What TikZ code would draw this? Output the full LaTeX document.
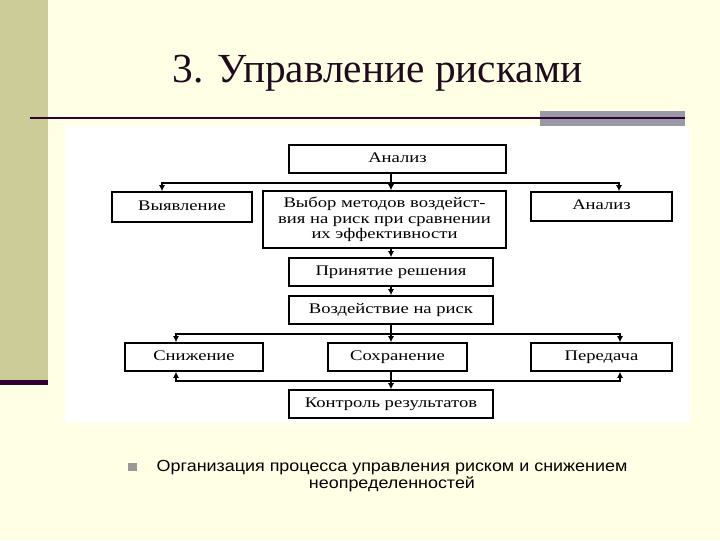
\documentclass[tikz,border=0pt]{standalone}
\usepackage{fontspec}
\setmainfont{Liberation Serif}
\newfontfamily\arialf[FakeStretch=1.12]{Liberation Sans}
\newfontfamily\boxf[FakeStretch=1.27]{Liberation Serif}
\usetikzlibrary{arrows.meta}
\definecolor{bg}{RGB}{255,255,229}
\definecolor{strip}{RGB}{204,204,153}
\definecolor{stripline}{RGB}{51,0,51}
\definecolor{graybar}{RGB}{153,153,168}
\definecolor{titlec}{RGB}{30,12,30}
\definecolor{bulletc}{RGB}{153,153,153}
\begin{document}
\begin{tikzpicture}[x=0.75pt,y=-0.75pt,
  box/.style={draw=black, line width=1.2pt, fill=white, inner sep=0pt, align=center,
    font=\boxf\fontsize{11}{11.6}\selectfont},
  single/.style={text height=7.5pt, text depth=2.5pt},
  conn/.style={line width=0.8pt, -{Latex[length=4.5pt,width=4.5pt]}},
  titlefont/.style={font=\fontsize{31}{36}\selectfont, text=titlec}]
\useasboundingbox (0,0) rectangle (720,540);
\fill[bg] (0,0) rectangle (720,540);
\fill[strip] (0,0) rectangle (48,380);
\fill[stripline] (0,380) rectangle (48,385);
\fill[graybar] (540,111) rectangle (685,126);
\draw[stripline, line width=1.5pt] (30,118) -- (685,118);
\node[titlefont, anchor=base] (title) at (377.5,82) {3. Управление рисками};
\fill[white] (65,126) rectangle (690,423);

\node[box, single, minimum width=162.75pt, minimum height=21pt] (an1) at (397.5,159) {Анализ};
\node[box, single, minimum width=105pt, minimum height=22.5pt] (vyy) at (182,207) {Выявление};
\node[box, minimum width=182.25pt, minimum height=42.75pt] (vyb) at (384.5,219.5) {Выбор методов воздейст-\\вия на риск при сравнении\\их эффективности};
\node[box, single, minimum width=105.75pt, minimum height=21.75pt] (an2) at (601.5,206.5) {Анализ};
\node[box, single, minimum width=153pt, minimum height=21pt] (prin) at (391,272) {Принятие решения};
\node[box, single, minimum width=153pt, minimum height=21pt] (vozd) at (391,310) {Воздействие на риск};
\node[box, single, minimum width=103.5pt, minimum height=21pt] (sniz) at (194,357) {Снижение};
\node[box, single, minimum width=104.25pt, minimum height=21pt] (sohr) at (397.5,357) {Сохранение};
\node[box, single, minimum width=105.75pt, minimum height=21pt] (pere) at (601.5,357) {Передача};
\node[box, single, minimum width=153pt, minimum height=21pt] (kontr) at (391,404) {Контроль результатов};

\coordinate (tx) at (391,0);
\coordinate (j1) at (391,183);
\coordinate (l1) at (162,183);
\coordinate (r1) at (619,183);
\coordinate (j2) at (391,334);
\coordinate (l2) at (176,334);
\coordinate (r2) at (620,334);
\coordinate (j3) at (391,381);
\coordinate (l3) at (176,381);
\coordinate (r3) at (620,381);

\draw[conn] (an1.south -| tx) -- (vyb.north -| tx);
\draw[conn] (j1) -- (l1) -- (vyy.north -| l1);
\draw[conn] (j1) -- (r1) -- (an2.north -| r1);
\draw[conn] (vyb.south -| tx) -- (prin.north -| tx);
\draw[conn] (prin.south -| tx) -- (vozd.north -| tx);
\draw[conn] (vozd.south -| tx) -- (sohr.north -| tx);
\draw[conn] (j2) -- (l2) -- (sniz.north -| l2);
\draw[conn] (j2) -- (r2) -- (pere.north -| r2);
\draw[conn] (sohr.south -| tx) -- (kontr.north -| tx);
\draw[conn] (j3) -- (l3) -- (sniz.south -| l3);
\draw[conn] (j3) -- (r3) -- (pere.south -| r3);

\fill[bulletc] (128,463) rectangle (137,471);
\node[font=\arialf\fontsize{12}{12.5}\selectfont, align=center, text=black] (note) at (392,476) {Организация процесса управления риском и снижением\\неопределенностей};
\end{tikzpicture}
\end{document}
